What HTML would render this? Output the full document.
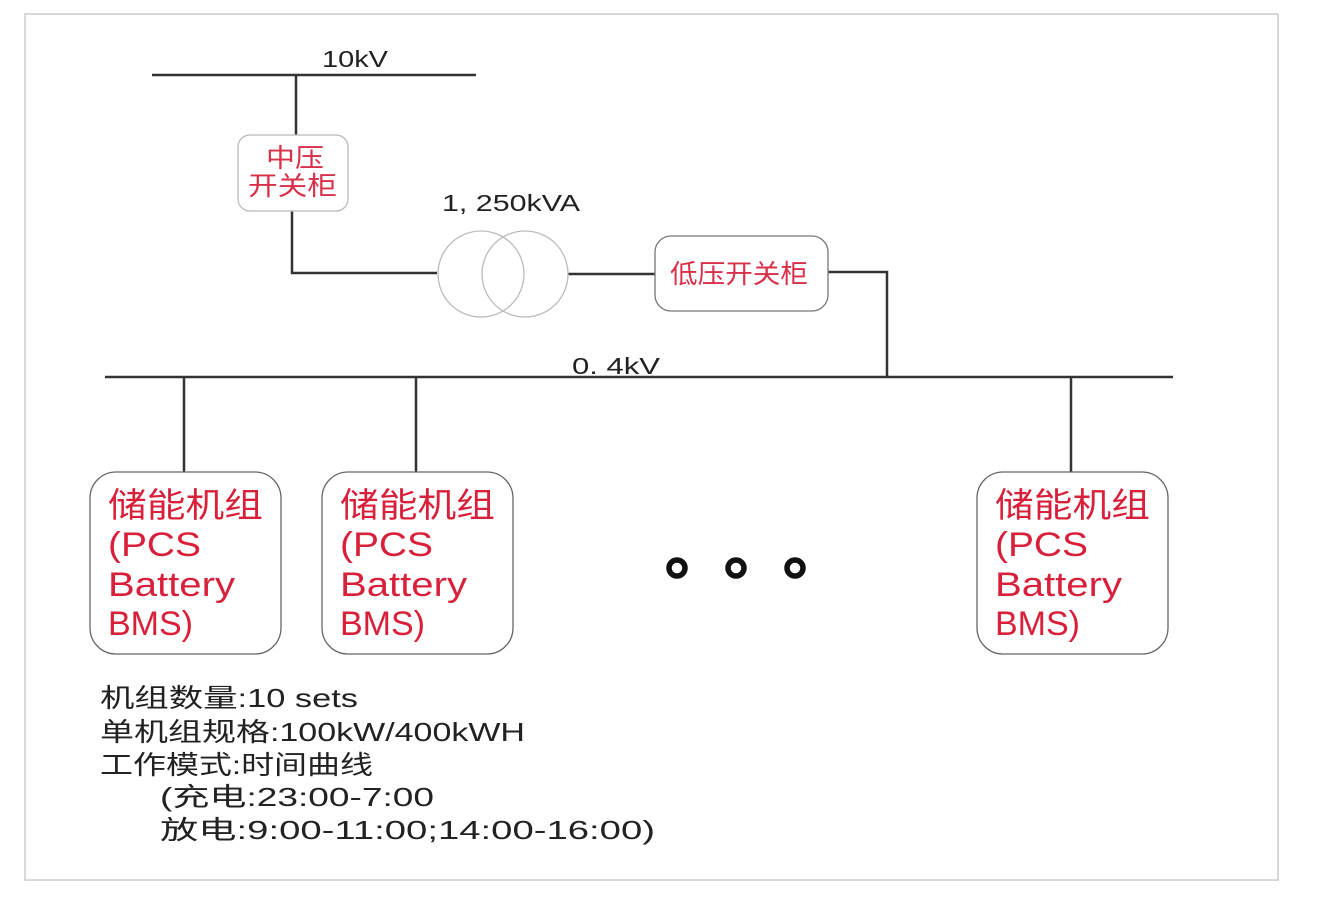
<!DOCTYPE html>
<html><head><meta charset="utf-8"><style>
html,body{margin:0;padding:0;background:#fff;}
svg{display:block;}
text{font-family:"Liberation Sans","Noto Sans CJK SC",sans-serif;}
</style></head><body>
<svg width="1327" height="900" viewBox="0 0 1327 900" xmlns="http://www.w3.org/2000/svg">
<rect x="25" y="14" width="1253" height="866" fill="#fff" stroke="#ccc" stroke-width="1.5"/>
<g stroke="#333" stroke-width="2.5" fill="none">
<line x1="152" y1="75" x2="476" y2="75"/>
<line x1="296" y1="75" x2="296" y2="135"/>
<polyline points="292,211 292,273 437,273"/>
<line x1="568" y1="274" x2="655" y2="274"/>
<polyline points="828,272 887,272 887,377"/>
<line x1="105" y1="377" x2="1173" y2="377"/>
<line x1="184" y1="377" x2="184" y2="472"/>
<line x1="416" y1="377" x2="416" y2="472"/>
<line x1="1071" y1="377" x2="1071" y2="472"/>
</g>
<g fill="#fff" stroke="#bbb" stroke-width="1.3">
<rect x="238" y="135" width="110" height="76" rx="12"/>
<circle cx="481" cy="274" r="43"/>
<circle cx="525" cy="274" r="43" fill="none"/>
</g>
<rect x="655" y="236" width="173" height="75" rx="16" fill="#fff" stroke="#777" stroke-width="1.3"/>
<g fill="#fff" stroke="#666" stroke-width="1.3">
<rect x="90" y="472" width="191" height="182" rx="26"/>
<rect x="322" y="472" width="191" height="182" rx="26"/>
<rect x="977" y="472" width="191" height="182" rx="26"/>
</g>
<g fill="#222" font-size="23">
<text x="322" y="67" textLength="66" lengthAdjust="spacingAndGlyphs">10kV</text>
<text x="442" y="211" textLength="138" lengthAdjust="spacingAndGlyphs">1, 250kVA</text>
<text x="572" y="374" textLength="88" lengthAdjust="spacingAndGlyphs">0. 4kV</text>
</g>
<g fill="#d9304a" font-size="26">
<text x="266" y="167" textLength="58" lengthAdjust="spacingAndGlyphs">中压</text>
<text x="248" y="195" textLength="89" lengthAdjust="spacingAndGlyphs">开关柜</text>
<text x="670" y="283" textLength="138" lengthAdjust="spacingAndGlyphs">低压开关柜</text>
</g>
<g fill="#d9203a" font-size="34">
<text x="108" y="517" textLength="155" lengthAdjust="spacingAndGlyphs">储能机组</text><text x="108" y="556" textLength="93" lengthAdjust="spacingAndGlyphs">(PCS</text><text x="108" y="596" textLength="127" lengthAdjust="spacingAndGlyphs">Battery</text><text x="108" y="635" textLength="85" lengthAdjust="spacingAndGlyphs">BMS)</text>
<text x="340" y="517" textLength="155" lengthAdjust="spacingAndGlyphs">储能机组</text><text x="340" y="556" textLength="93" lengthAdjust="spacingAndGlyphs">(PCS</text><text x="340" y="596" textLength="127" lengthAdjust="spacingAndGlyphs">Battery</text><text x="340" y="635" textLength="85" lengthAdjust="spacingAndGlyphs">BMS)</text>
<text x="995" y="517" textLength="155" lengthAdjust="spacingAndGlyphs">储能机组</text><text x="995" y="556" textLength="93" lengthAdjust="spacingAndGlyphs">(PCS</text><text x="995" y="596" textLength="127" lengthAdjust="spacingAndGlyphs">Battery</text><text x="995" y="635" textLength="85" lengthAdjust="spacingAndGlyphs">BMS)</text>
</g>
<g fill="none" stroke="#111" stroke-width="5.5">
<circle cx="677" cy="568" r="8"/><circle cx="736" cy="568" r="8"/><circle cx="795" cy="568" r="8"/>
</g>
<g fill="#222" font-size="26">
<text x="100" y="707" textLength="258" lengthAdjust="spacingAndGlyphs">机组数量:10 sets</text>
<text x="100" y="741" textLength="425" lengthAdjust="spacingAndGlyphs">单机组规格:100kW/400kWH</text>
<text x="100" y="774" textLength="273" lengthAdjust="spacingAndGlyphs">工作模式:时间曲线</text>
<text x="160" y="806" textLength="274" lengthAdjust="spacingAndGlyphs">(充电:23:00-7:00</text>
<text x="160" y="839" textLength="495" lengthAdjust="spacingAndGlyphs">放电:9:00-11:00;14:00-16:00)</text>
</g>
</svg>
</body></html>
